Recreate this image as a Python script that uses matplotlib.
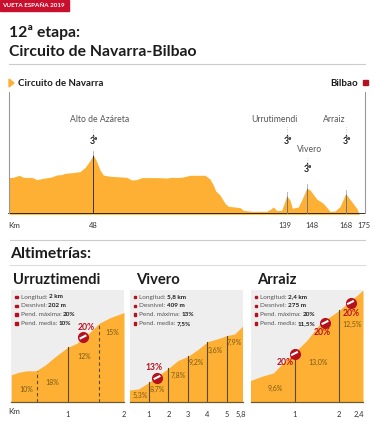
import matplotlib.pyplot as plt
from matplotlib.patches import Rectangle

plt.rcParams["font.family"] = ["Lato", "DejaVu Sans"]

W, H = 375, 422
ORANGE = "#fdb033"
RED = "#b5121f"
DARK = "#1c1c1c"
GREY = "#555555"

# main profile, position along the strip and height over the baseline
profile_x = [9, 13.3, 19.3, 23.3, 28.3, 31.7, 36.7, 43.3, 51.7, 56.7, 61.7, 65, 73.3, 80, 85, 89.3,
             93.3, 96.7, 100, 103.3, 110, 126.7, 131.7, 136.7, 141.7, 156.7, 166.7, 171.7, 176.7,
             183.3, 190, 205, 210, 213.3, 215.7, 220, 225, 228.3, 240, 243.3, 251.7, 266.7, 270,
             273.3, 276.7, 281.7, 286.7, 290, 292.3, 298.3, 301.7, 306.7, 310, 316.7, 323.3, 330,
             335, 340, 345.7, 351.7, 356.7, 359.3]
profile_h = [36.7, 37, 39, 37, 36.7, 37, 34.7, 36, 37.3, 39.3, 39.7, 41, 41.7, 42.7, 46.7, 52.7,
             59.3, 52.7, 44.3, 39.3, 38, 37, 34.3, 34.7, 36.7, 36.7, 36.3, 37, 36.7,
             37.3, 39, 39, 35.3, 29.3, 23.3, 19.3, 11, 8, 6.7, 4, 3, 3, 4.7,
             7.3, 3.7, 4, 18.3, 14.3, 6, 7.3, 14.3, 26, 24.3, 15.3, 11, 3,
             3.3, 7.7, 20.7, 12.7, 6, 0]
km_pos = [93.3, 285, 312, 346, 364]
km_labels = ["48", "139", "148", "168", "175"]
climb_names = ["Alto de Azáreta", "Urrutimendi", "Vivero", "Arraiz"]
climb_pos = [93.3, 286.7, 307, 345.7]
climb_tops = [59.3, 18.3, 26, 20.7]
label_x = [99.5, 274, 309.5, 334]
label_y = [119, 119, 150, 119]
mark_gap = [16, 16, 13, 16]
grade_gap = [23, 23, 20, 23]

# climbs: km, altitude in m over the box floor
urru_km = [0, .124, .272, .438, .604, .78, 1, 1.16, 1.34, 1.56, 1.75, 2]
urru_alt = [89, 97, 102, 102, 121, 148, 178, 191, 218, 256, 274, 291]
urru_ticks = [1, 2]
urru_tick_labels = ["1", "2"]
urru_solid = [1]
urru_dashed = [.45, 1.56]
urru_pcts = ["10%", "18%", "12%", "15%"]
urru_pct_km = [.27, .73, 1.3, 1.8]
urru_pct_alt = [40, 65, 150, 225]
urru_info = ["2 km", "202 m", "20%", "10%"]

viv_km = [0, .46, 1, 1.47, 2, 2.48, 3, 3.5, 4, 4.5, 5, 5.4, 5.8]
viv_alt = [79, 86, 128, 171, 218, 268, 295, 338, 389, 407, 428, 439, 488]
viv_ticks = [1, 2, 3, 4, 5, 5.7]
viv_tick_labels = ["1", "2", "3", "4", "5", "5,8"]
viv_solid = [1, 2, 3, 4, 5]
viv_pcts = ["5,3%", "8,7%", "7,8%", "9,2%", "3,6%", "7,9%"]
viv_pct_km = [.55, 1.45, 2.5, 3.45, 4.4, 5.4]
viv_pct_alt = [42, 85, 175, 255, 330, 385]
viv_info = ["5,8 km", "409 m", "13%", "7,5%"]

arr_km = [0, .26, .52, .71, 1, 1.27, 1.53, 1.72, 2, 2.21, 2.4, 2.54]
arr_alt = [66, 79, 89, 116, 152, 187, 232, 252, 278, 303, 323, 340]
arr_ticks = [1, 2, 2.44]
arr_tick_labels = ["1", "2", "2,4"]
arr_solid = [1, 2]
arr_pcts = ["9,6%", "13,0%", "12,5%"]
arr_pct_km = [.57, 1.53, 2.3]
arr_pct_alt = [43, 122, 235]
arr_info = ["2,4 km", "275 m", "20%", "11,5%"]

info_labels = ["Longitud:", "Desnivel:", "Pend. máxima:", "Pend. media:"]

fig = plt.figure(figsize=(W / 100, H / 100), dpi=100)


def axes_px(left, top, right, bottom):
    return fig.add_axes([left / W, 1 - bottom / H, (right - left) / W, (bottom - top) / H])


# overlay in image pixels for the page furniture
page = fig.add_axes([0, 0, 1, 1], zorder=5)
page.set_xlim(0, W)
page.set_ylim(H, 0)
page.axis("off")
page.patch.set_alpha(0)


def txt(x, y, s, size=6, color=DARK, weight="normal", ha="left"):
    page.text(x, y, s, fontsize=size, color=color, fontweight=weight, ha=ha, va="center")


def no_entry(x, y):
    page.plot([x], [y], "o", ms=7, color=RED, mec=RED)
    page.plot([x - 2.4, x + 2.4], [y + 1.2, y - 1.2], color="white", lw=1.5)


page.add_patch(Rectangle((0, 0), 69, 11, color="#c8102e"))
txt(2, 5.8, "VUETA ESPAÑA 2019", 4.5, "white", "bold")
txt(9, 33, "12ª etapa:", 11.3, DARK, "bold")
txt(9, 52, "Circuito de Navarra-Bilbao", 11.3, DARK, "bold")
page.plot([9, 365], [64, 64], color="#cccccc", lw=0.8)
page.fill([9, 14, 9], [79, 83, 87], color=ORANGE)
txt(18, 83, "Circuito de Navarra", 7, DARK, "bold")
txt(358, 83, "Bilbao", 7, DARK, "bold", ha="right")
page.add_patch(Rectangle((363, 80), 5, 5, color=RED))

txt(10, 254, "Altimetrías:", 11.3, DARK, "bold")
page.plot([10, 365], [240, 240], color="#cccccc", lw=0.8)
page.plot([10, 365], [265, 265], color="#dddddd", lw=0.8)
txt(13, 280, "Urruztimendi", 10.6, DARK, "bold")
txt(136, 280, "Vivero", 10.6, DARK, "bold")
txt(257, 280, "Arraiz", 10.6, DARK, "bold")

# main profile
ax = axes_px(0, 92, W, 214.3)
ax.set_xlim(0, W)
ax.set_ylim(0, 122.3)
ax.axis("off")
ax.fill_between(profile_x, profile_h, 0, color=ORANGE, lw=0)
ax.plot([9, 365], [0, 0], color="#111111", lw=1.2)
ax.plot([9, 9], [0, 122.3], color="#999999", lw=0.8)
ax.plot([365, 365], [0, 122.3], color="#999999", lw=0.8)
for p, top in zip(climb_pos, climb_tops):
    ax.plot([p, p], [0, top], color="#333333" if p < 100 else "#777777", lw=0.7)
    ax.plot([p, p], [top, top + 4], color="#aaaaaa", lw=0.6)
for p, lab in zip(km_pos, km_labels):
    txt(p, 225, lab, 5.4, "#333333", ha="center")
txt(8, 225, "Km", 5.8, "#333333")

for name, p, lx, y, mg, gg in zip(climb_names, climb_pos, label_x, label_y, mark_gap, grade_gap):
    txt(lx, y, name, 6.2, GREY, ha="center")
    page.plot([p, p], [y + 8, y + mg - 2], color="#999999", lw=0.4, ls=":")
    page.plot([p], [y + mg], "^", ms=1.6, color=DARK, mew=0)
    txt(p + 0.8, y + gg, "3ª", 6.4, DARK, "bold", ha="center")


def climb(left, right, km, alt, xmax, ymax, ticks, tick_labels, solid, dashed, pcts, pct_km, pct_alt, info):
    a = axes_px(left, 290, right, 402.3)
    a.set_xlim(0, xmax)
    a.set_ylim(0, ymax)
    a.set_facecolor("#eeeeee")
    a.fill_between(km, alt, 0, color=ORANGE, lw=0)
    for s in a.spines.values():
        s.set_visible(False)
    a.spines["bottom"].set_visible(True)
    a.spines["bottom"].set_linewidth(0.9)
    a.spines["bottom"].set_color("#6b5a33")
    a.set_yticks([])
    a.set_xticks(ticks, tick_labels, fontsize=5.4, color="#333333")
    a.tick_params(axis="x", length=0, pad=6.5)
    for k in solid:
        i = min(range(len(km)), key=lambda j: abs(km[j] - k))
        a.plot([k, k], [0, alt[i]], color="#5a4a22", lw=0.8)
    for k in dashed:
        a.plot([k, k], [0, 250 if k > 1 else 102], color="#5a4a22", lw=0.8, ls=(0, (3, 2.5)))
    for p, k, y in zip(pcts, pct_km, pct_alt):
        a.text(k, y, p, fontsize=5, color="#7a5a18", ha="center", va="center")
    for i, (lab, val) in enumerate(zip(info_labels, info)):
        y = 297 + i * 8.8
        page.add_patch(Rectangle((left + 4, y - 1.2), 2.4, 2.4, color=RED))
        t = page.text(left + 9.5, y, lab + " ", fontsize=4.6, color="#555555", va="center")
        page.annotate(val, xy=(1, 0.5), xycoords=t, fontsize=4.6, color=DARK, fontweight="bold", va="center")


climb(11.3, 124, urru_km, urru_alt, 2, 364, urru_ticks, urru_tick_labels, urru_solid, urru_dashed,
      urru_pcts, urru_pct_km, urru_pct_alt, urru_info)
climb(129.5, 242.5, viv_km, viv_alt, 5.8, 721, viv_ticks, viv_tick_labels, viv_solid, [],
      viv_pcts, viv_pct_km, viv_pct_alt, viv_info)
climb(250.5, 363, arr_km, arr_alt, 2.54, 340, arr_ticks, arr_tick_labels, arr_solid, [],
      arr_pcts, arr_pct_km, arr_pct_alt, arr_info)
txt(8, 412, "Km", 5.8, "#333333")

# max gradient markers
no_entry(83, 337)
txt(86, 328, "20%", 6.2, RED, "bold", ha="center")
no_entry(157, 377.5)
txt(154, 367, "13%", 6.2, RED, "bold", ha="center")
no_entry(294.5, 353.5)
txt(285, 362.5, "20%", 6.2, RED, "bold", ha="center")
no_entry(325, 322.5)
txt(322, 332.5, "20%", 6.2, RED, "bold", ha="center")
no_entry(350.5, 302.5)
txt(351, 313, "20%", 6.2, RED, "bold", ha="center")

fig.savefig("out.png", dpi=100)
